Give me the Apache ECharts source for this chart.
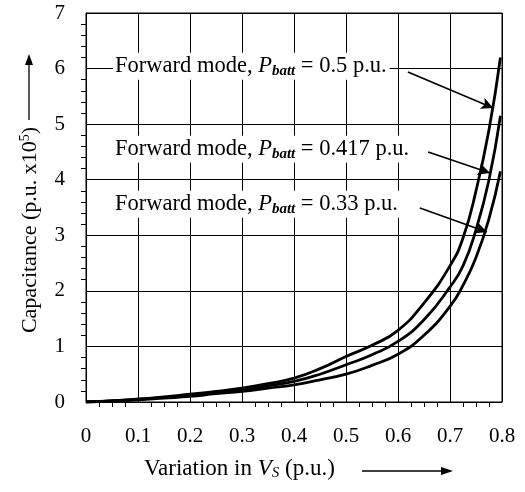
<!DOCTYPE html>
<html>
<head>
<meta charset="utf-8">
<script src="https://cdn.jsdelivr.net/npm/echarts@6/dist/echarts.min.js"></script>
<style>
  html, body { margin: 0; padding: 0; background: #fff; }
  #main { width: 525px; height: 492px; }
</style>
</head>
<body>
<div id="main"></div>
<script>
// variation in Vs (p.u.)
var xVals = [0, 0.05, 0.1, 0.15, 0.2, 0.25, 0.3, 0.35, 0.4, 0.45, 0.5, 0.55, 0.6, 0.65, 0.7, 0.725, 0.75, 0.775, 0.797];
// capacitance (p.u. x10^5) for each battery power
var cap050 = [0, 0.02, 0.05, 0.09, 0.14, 0.19, 0.25, 0.33, 0.43, 0.6, 0.82, 1.02, 1.29, 1.78, 2.45, 2.95, 3.8, 4.9, 6.2];
var cap0417 = [0, 0.02, 0.05, 0.08, 0.12, 0.17, 0.22, 0.29, 0.37, 0.5, 0.67, 0.85, 1.09, 1.48, 2.07, 2.45, 3.1, 4.0, 5.15];
var cap033 = [0, 0.02, 0.04, 0.07, 0.1, 0.15, 0.19, 0.25, 0.31, 0.4, 0.5, 0.66, 0.86, 1.2, 1.72, 2.1, 2.6, 3.3, 4.15];

var xTicks = ['0', '0.1', '0.2', '0.3', '0.4', '0.5', '0.6', '0.7', '0.8'];
var yTicks = ['0', '1', '2', '3', '4', '5', '6', '7'];

var labelTexts = ['0.5', '0.417', '0.33'];
var labelPos = [[0.052, 6.04], [0.052, 4.55], [0.052, 3.56]];
var arrows = [
    [[0.619, 5.94], [0.783, 5.29]],
    [[0.658, 4.50], [0.777, 4.12]],
    [[0.642, 3.49], [0.771, 3.06]]
];

var FONT = '"Liberation Serif", "DejaVu Serif", serif';

function pairs(ys) {
    return xVals.map(function(x, i) { return [x, ys[i]]; });
}

var chart = echarts.init(document.getElementById('main'));

var richStyle = {
    n: { fontFamily: FONT, fontSize: 22.5, color: '#000' },
    i: { fontFamily: FONT, fontSize: 22.5, fontStyle: 'italic', color: '#000' },
    s: { fontFamily: FONT, fontSize: 15, fontStyle: 'italic', fontWeight: 'bold', color: '#000', padding: [10, 0, 0, 0] }
};

var option = {
    animation: false,
    backgroundColor: '#fff',
    grid: {
        left: 86, right: 23, top: 13, bottom: 90,
        show: true, borderColor: '#000', borderWidth: 1
    },
    xAxis: {
        type: 'value',
        min: 0, max: 0.8, interval: 0.1,
        axisLine: { lineStyle: { color: '#000', width: 1 } },
        axisTick: { show: false },
        minorTick: { show: true, splitNumber: 4, length: 5, lineStyle: { color: '#000' } },
        splitLine: { show: true, lineStyle: { color: '#000', width: 1 } },
        axisLabel: {
            margin: 24, fontFamily: FONT, fontSize: 21, color: '#000',
            formatter: function(v) { return xTicks[Math.round(v * 10)]; }
        }
    },
    yAxis: {
        type: 'value',
        min: 0, max: 7, interval: 1,
        axisLine: { show: true, lineStyle: { color: '#000', width: 1 } },
        axisTick: { show: false },
        minorTick: { show: true, splitNumber: 5, length: 5, lineStyle: { color: '#000' } },
        splitLine: { show: true, lineStyle: { color: '#000', width: 1 } },
        axisLabel: {
            margin: 21, fontFamily: FONT, fontSize: 21, color: '#000',
            formatter: function(v) { return yTicks[v]; }
        }
    },
    series: [{
            type: 'line', data: pairs(cap050), symbol: 'none', smooth: true,
            lineStyle: { color: '#000', width: 2.8 }, z: 3,
            markPoint: {
                symbol: 'circle', symbolSize: 0, silent: true,
                label: {
                    show: true, position: 'right', distance: 0,
                    backgroundColor: '#fff', padding: [1, 3, 1, 2],
                    formatter: function(p) {
                        return '{n|Forward mode, }{i|P}{s|batt}{n| = ' + labelTexts[p.dataIndex] + ' p.u.}';
                    },
                    rich: richStyle
                },
                data: labelPos.map(function(c) { return { coord: c }; })
            },
            markLine: {
                silent: true, symbol: ['none', 'arrow'], symbolSize: [9, 12],
                lineStyle: { color: '#000', width: 1.6, type: 'solid' },
                label: { show: false },
                data: arrows.map(function(a) { return [{ coord: a[0] }, { coord: a[1] }]; })
            }
        },
        {
            type: 'line', data: pairs(cap0417), symbol: 'none', smooth: true,
            lineStyle: { color: '#000', width: 2.8 }, z: 3
        },
        {
            type: 'line', data: pairs(cap033), symbol: 'none', smooth: true,
            lineStyle: { color: '#000', width: 2.8 }, z: 3
        }
    ],
    graphic: [
        // y axis name, rotated
        {
            type: 'text', x: 30, y: 230, rotation: Math.PI / 2,
            style: {
                text: '{n|Capacitance (p.u. x10}{sup|5}{n|)}',
                align: 'center', verticalAlign: 'middle',
                rich: {
                    n: { fontFamily: FONT, fontSize: 22, color: '#000' },
                    sup: { fontFamily: FONT, fontSize: 14, color: '#000', padding: [0, 0, 10, 0] }
                }
            }
        },
        // arrow beside y axis name
        { type: 'line', shape: { x1: 29, y1: 120, x2: 29, y2: 63 }, style: { stroke: '#000', lineWidth: 1.3 } },
        { type: 'polygon', shape: { points: [[29, 54], [25, 65], [33, 65]] }, style: { fill: '#000' } },
        // x axis name
        {
            type: 'text', left: 144, top: 457,
            style: {
                text: '{n|Variation in }{i|V}{s|S}{n| (p.u.)}',
                rich: {
                    n: { fontFamily: FONT, fontSize: 23, color: '#000' },
                    i: { fontFamily: FONT, fontSize: 23, fontStyle: 'italic', color: '#000' },
                    s: { fontFamily: FONT, fontSize: 15, fontStyle: 'italic', color: '#000', padding: [9, 0, 0, 0] }
                }
            }
        },
        { type: 'line', shape: { x1: 362, y1: 471, x2: 443, y2: 471 }, style: { stroke: '#000', lineWidth: 1.3 } },
        { type: 'polygon', shape: { points: [[453, 471], [441, 467], [441, 475]] }, style: { fill: '#000' } }
    ]
};
chart.setOption(option);
</script>
</body>
</html>
